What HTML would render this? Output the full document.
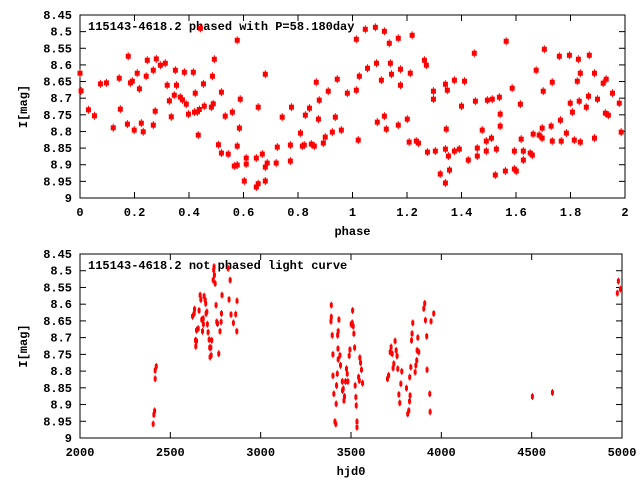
<!DOCTYPE html>
<html><head><meta charset="utf-8"><style>
html,body{margin:0;padding:0;background:#fff;}
svg{display:block;font-family:"Liberation Mono",monospace;font-weight:bold;font-size:12px;}
</style></head><body>
<svg id="chart" width="640" height="480" xmlns="http://www.w3.org/2000/svg"></svg>
<script>
// Top panel data (phase vs magnitude)
const topPhase = [0.000,0.004,0.031,0.053,0.075,0.097,0.122,0.144,0.148,0.174,0.177,0.185,0.192,0.199,0.210,0.218,0.225,0.232,0.243,0.247,0.269,0.269,0.276,0.280,0.295,0.313,0.320,0.328,0.335,0.346,0.350,0.354,0.368,0.376,0.383,0.390,0.398,0.416,0.420,0.423,0.431,0.434,0.438,0.442,0.453,0.456,0.482,0.486,0.489,0.493,0.508,0.519,0.519,0.533,0.544,0.559,0.566,0.577,0.577,0.577,0.585,0.588,0.603,0.610,0.610,0.647,0.647,0.654,0.654,0.669,0.680,0.680,0.680,0.687,0.720,0.724,0.742,0.772,0.772,0.776,0.809,0.816,0.823,0.827,0.842,0.849,0.860,0.867,0.875,0.878,0.893,0.900,0.911,0.926,0.937,0.944,0.959,0.981,
1.014,1.014,1.021,1.025,1.047,1.055,1.084,1.088,1.091,1.106,1.117,1.117,1.124,1.135,1.139,1.143,1.168,1.168,1.176,1.176,1.201,1.208,1.212,1.219,1.234,1.242,1.264,1.271,1.275,1.297,1.297,1.304,1.322,1.341,1.341,1.344,1.348,1.352,1.356,1.341,1.374,1.374,1.392,1.400,1.411,1.425,1.447,1.451,1.458,1.458,1.476,1.491,1.491,1.495,1.510,1.513,1.524,1.528,1.539,1.542,1.542,1.561,1.564,1.586,1.594,1.594,1.601,1.616,1.619,1.627,1.627,1.652,1.660,1.663,1.674,1.685,1.696,1.696,1.700,1.704,1.729,1.733,1.733,1.759,1.763,1.766,1.785,1.796,1.799,1.807,1.814,1.825,1.829,1.832,1.836,1.836,1.858,1.866,1.869,1.888,1.888,1.899,1.920,1.928,1.931,1.939,1.954,1.979,1.986];
const topMag = [8.625,8.678,8.735,8.753,8.657,8.654,8.789,8.640,8.733,8.778,8.574,8.654,8.649,8.796,8.625,8.672,8.775,8.801,8.634,8.586,8.616,8.781,8.739,8.582,8.601,8.595,8.661,8.708,8.756,8.691,8.616,8.661,8.697,8.705,8.622,8.718,8.748,8.622,8.742,8.685,8.741,8.811,8.734,8.490,8.657,8.724,8.727,8.634,8.717,8.583,8.840,8.865,8.682,8.754,8.868,8.742,8.904,8.526,8.901,8.844,8.790,8.703,8.949,8.880,8.898,8.967,8.880,8.727,8.957,8.868,8.628,8.907,8.949,8.895,8.895,8.847,8.757,8.841,8.889,8.727,8.805,8.844,8.841,8.751,8.730,8.838,8.844,8.652,8.763,8.706,8.835,8.817,8.679,8.802,8.757,8.643,8.796,8.685,
8.523,8.676,8.826,8.634,8.493,8.610,8.487,8.595,8.772,8.646,8.499,8.754,8.793,8.535,8.595,8.628,8.520,8.781,8.613,8.661,8.763,8.832,8.625,8.511,8.829,8.835,8.586,8.601,8.862,8.679,8.703,8.859,8.928,8.658,8.853,8.793,8.676,8.874,8.916,8.955,8.646,8.859,8.853,8.724,8.649,8.886,8.565,8.709,8.850,8.874,8.796,8.829,8.859,8.706,8.820,8.703,8.931,8.853,8.697,8.748,8.784,8.919,8.529,8.670,8.859,8.913,8.919,8.718,8.823,8.859,8.886,8.865,8.871,8.808,8.616,8.811,8.790,8.820,8.679,8.553,8.784,8.829,8.652,8.574,8.766,8.829,8.805,8.571,8.715,8.742,8.826,8.649,8.583,8.709,8.625,8.832,8.727,8.694,8.571,8.625,8.820,8.703,8.655,8.745,8.643,8.751,8.685,8.715,8.802];
// Bottom panel data (hjd vs magnitude)
const botHjd = [2405,2409,2413,2416,2416,2422,2623,2632,2634,2641,2639,2645,2645,2654,2659,2665,2669,2674,2678,2682,2683,2687,2693,2696,2698,2702,2705,2709,2715,2718,2720,2724,2726,2729,2737,2740,2742,2744,2748,2753,2757,2761,2768,2775,2781,2783,2786,2820,2825,2831,2836,2849,2862,2868,2869,
3391,3391,3389,3396,3400,3400,3405,3411,3416,3418,3420,3424,3426,3429,3433,3428,3429,3439,3442,3452,3453,3457,3461,3464,3470,3475,3479,3483,3490,3494,3501,3507,3509,3512,3516,3520,3523,3527,3529,3533,3533,3542,3546,3549,3553,3558,3564,
3702,3708,3717,3722,3728,3733,3737,3744,3750,3755,3759,3765,3770,3776,3781,3807,3814,3820,3824,3825,3827,3831,3835,3838,3842,3855,3859,3864,3866,3870,3875,3903,3908,3912,3921,3919,3936,3938,3943,3958,4504,4615,4980,4991,4974];
const botMag = [8.958,8.930,8.919,8.823,8.798,8.786,8.636,8.628,8.615,8.726,8.708,8.710,8.678,8.673,8.619,8.573,8.586,8.646,8.681,8.643,8.660,8.576,8.588,8.598,8.628,8.623,8.660,8.684,8.706,8.730,8.758,8.730,8.753,8.708,8.528,8.498,8.488,8.513,8.538,8.603,8.653,8.658,8.748,8.681,8.653,8.628,8.573,8.493,8.586,8.528,8.631,8.656,8.630,8.681,8.590,
8.603,8.638,8.651,8.693,8.750,8.814,8.868,8.951,8.958,8.898,8.843,8.808,8.693,8.681,8.646,8.733,8.765,8.753,8.783,8.831,8.858,8.853,8.888,8.876,8.831,8.793,8.808,8.831,8.754,8.736,8.660,8.656,8.619,8.666,8.688,8.730,8.843,8.878,8.903,8.951,8.968,8.818,8.828,8.760,8.775,8.796,8.836,
8.823,8.813,8.743,8.728,8.748,8.791,8.778,8.710,8.738,8.755,8.793,8.870,8.895,8.838,8.801,8.851,8.928,8.918,8.890,8.818,8.873,8.788,8.708,8.688,8.656,8.803,8.783,8.768,8.738,8.700,8.743,8.613,8.598,8.648,8.796,8.696,8.868,8.922,8.651,8.628,8.876,8.864,8.531,8.555,8.567];
const yTicks = ["8.45","8.5","8.55","8.6","8.65","8.7","8.75","8.8","8.85","8.9","8.95","9"];
const topXTicks = ["0","0.2","0.4","0.6","0.8","1","1.2","1.4","1.6","1.8","2"];
const botXTicks = ["2000","2500","3000","3500","4000","4500","5000"];

const NS = "http://www.w3.org/2000/svg";
const svg = document.getElementById("chart");
function mk(tag, attrs, parent){const e=document.createElementNS(NS,tag);for(const k in attrs)e.setAttribute(k,attrs[k]);(parent||svg).appendChild(e);return e;}

function panel(opt){
  const g = mk("g",{});
  
  
  const L=opt.L,R=opt.R,T=opt.T,B=opt.B;
  const xs = v => L + (v-opt.xmin)/(opt.xmax-opt.xmin)*(R-L);
  const ys = v => T + (v-8.45)/(0.55)*(B-T);
  const frame = mk("rect",{x:L,y:T,width:R-L,height:B-T,fill:"none",stroke:"#000","stroke-width":1},g);
  
  
  yTicks.forEach(t=>{
    const y = ys(parseFloat(t));
    mk("line",{x1:L,x2:L+6,y1:y,y2:y,stroke:"#000"},g);
    mk("line",{x1:R-6,x2:R,y1:y,y2:y,stroke:"#000"},g);
    const tx = mk("text",{x:L-8,y:y+4,"text-anchor":"end"},g);
    tx.textContent = t;
    
    
  });
  opt.xticks.forEach(t=>{
    const x = xs(parseFloat(t));
    mk("line",{x1:x,x2:x,y1:B,y2:B-6,stroke:"#000"},g);
    mk("line",{x1:x,x2:x,y1:T,y2:T+6,stroke:"#000"},g);
    const tx = mk("text",{x:x,y:B+18,"text-anchor":"middle"},g);
    tx.textContent = t;
    
    
  });
  const yl = mk("text",{x:0,y:0,"text-anchor":"middle",transform:`translate(27,${(T+B)/2}) rotate(-90)`},g);
  yl.textContent = "I[mag]";
  
  
  const xl = mk("text",{x:(L+R)/2,y:B+37,"text-anchor":"middle"},g);
  xl.textContent = opt.xlabel;
  
  
  const ti = mk("text",{x:L+8,y:T+15},g);
  ti.textContent = opt.title;
  
  
  opt.xv.forEach((v,i)=>{
    const x = xs(v), y = ys(opt.yv[i]);
    const p = mk("g",{},g);
    
    
    mk("line",{x1:x,x2:x,y1:y-opt.eh,y2:y+opt.eh,stroke:"#f00","stroke-width":1},p);
    mk("rect",{x:x-opt.w/2,y:y-opt.h/2,width:opt.w,height:opt.h,fill:"#f00",rx:opt.rx},p);
  });
}
panel({name:"phased-panel",L:80,R:625,T:15,B:198,xmin:0,xmax:2,xticks:topXTicks,xlabel:"phase",
  title:"115143-4618.2 phased with P=58.180day",xv:topPhase,yv:topMag,w:5,h:5,eh:4,rx:0});
panel({name:"unphased-panel",L:80,R:622,T:254,B:438,xmin:2000,xmax:5000,xticks:botXTicks,xlabel:"hjd0",
  title:"115143-4618.2 not phased light curve",xv:botHjd,yv:botMag,w:3,h:5,eh:3.5,rx:1});
</script>
</body></html>
